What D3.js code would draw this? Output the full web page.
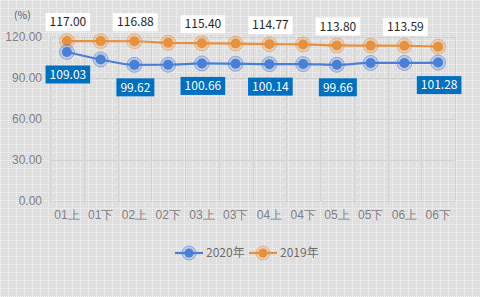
<!DOCTYPE html>
<html>
<head>
<meta charset="utf-8">
<script src="https://cdn.jsdelivr.net/npm/d3@7"></script>
<style>
  body { margin: 0; background: #e0e0e0; }
  svg { display: block; font-family: "Noto Sans CJK SC", "Noto Sans", sans-serif; }
</style>
</head>
<body>
<div id="chart"></div>
<script>
// categories and series
let categories = ["01上", "01下", "02上", "02下", "03上", "03下", "04上", "04下", "05上", "05下", "06上", "06下"];
let values2020 = [109.03, 103.6, 99.62, 99.7, 100.66, 100.4, 100.14, 100.2, 99.66, 101.0, 101.0, 101.28];
let values2019 = [117.00, 117.0, 116.88, 115.8, 115.40, 115.2, 114.77, 114.6, 113.80, 113.7, 113.59, 112.9];
let labels2020 = [0, 2, 4, 6, 8, 11];
let labels2019 = [0, 2, 4, 6, 8, 10];
let yTicks = [0, 30, 60, 90, 120];

let width = 480, height = 297;
let blue = "#4a7fd8", orange = "#e8913d";

let svg = d3.select("#chart").append("svg")
    .attr("width", width)
    .attr("height", height);

// dotted background pattern
let defs = svg.append("defs");
let pat = defs.append("pattern")
    .attr("id", "dots")
    .attr("width", 8).attr("height", 8)
    .attr("patternUnits", "userSpaceOnUse");
pat.append("rect").attr("width", 8).attr("height", 8).attr("fill", "#dfdfdf");
[0, 2, 4, 6].forEach(function (d) {
    pat.append("rect").attr("x", d).attr("y", 0).attr("width", 1).attr("height", 1).attr("fill", "#f6f6f6");
    if (d > 0) pat.append("rect").attr("x", 0).attr("y", d).attr("width", 1).attr("height", 1).attr("fill", "#f6f6f6");
});
svg.append("rect").attr("width", width).attr("height", height).attr("fill", "url(#dots)");

let x = d3.scaleBand().domain(categories).range([50, 455]);
let y = d3.scaleLinear().domain([0, 120]).range([201, 37]);
let cx = function (i) { return x(categories[i]) + x.bandwidth() / 2; };

// gridlines
let grid = svg.append("g").attr("stroke", "#d2d2d2").attr("stroke-width", 1);
yTicks.forEach(function (t) {
    grid.append("line").attr("x1", 50).attr("x2", 455)
        .attr("y1", Math.round(y(t)) + 0.5).attr("y2", Math.round(y(t)) + 0.5);
});
categories.forEach(function (c) {
    let xx = Math.round(x(c)) + 0.5;
    grid.append("line").attr("x1", xx).attr("x2", xx).attr("y1", y(120)).attr("y2", y(0));
});
grid.append("line").attr("x1", 455.5).attr("x2", 455.5).attr("y1", y(120)).attr("y2", y(0));

// y axis
let yAxis = svg.append("g")
    .attr("transform", "translate(42,0)")
    .call(d3.axisLeft(y).tickValues(yTicks).tickSize(0).tickPadding(0).tickFormat(d3.format(".2f")));
yAxis.select(".domain").remove();
yAxis.selectAll("text").attr("fill", "#7f7f86").style("font-size", "12px");

// x axis
let xAxis = svg.append("g")
    .attr("transform", "translate(0,210)")
    .call(d3.axisBottom(x).tickSize(0).tickPadding(0));
xAxis.select(".domain").remove();
xAxis.selectAll("text").attr("fill", "#7f7f86").style("font-size", "12px");

svg.append("text").attr("x", 14).attr("y", 19)
    .attr("fill", "#595959").style("font-size", "10.5px").text("(%)");

// series
function drawSeries(values, color) {
    let line = d3.line()
        .x(function (d, i) { return cx(i); })
        .y(function (d) { return y(d); })
        .curve(d3.curveMonotoneX);
    svg.append("path").datum(values)
        .attr("fill", "none").attr("stroke", color).attr("stroke-width", 2.2)
        .attr("d", line);
    let g = svg.append("g");
    g.selectAll(".ring").data(values).enter().append("circle")
        .attr("cx", function (d, i) { return cx(i); })
        .attr("cy", function (d) { return y(d); })
        .attr("r", 7.5).attr("fill", color).attr("fill-opacity", 0.25)
        .attr("stroke", color).attr("stroke-opacity", 0.5).attr("stroke-width", 1);
    g.selectAll(".dot").data(values).enter().append("circle")
        .attr("cx", function (d, i) { return cx(i); })
        .attr("cy", function (d) { return y(d); })
        .attr("r", 5).attr("fill", color);
}
drawSeries(values2019, orange);
drawSeries(values2020, blue);

// data labels
function drawLabels(values, idx, dy, bg, fg) {
    idx.forEach(function (i) {
        let txt = values[i].toFixed(2);
        let g = svg.append("g").attr("transform", "translate(" + (cx(i) + 1) + "," + (y(values[i]) + dy) + ")");
        let t = g.append("text").attr("text-anchor", "middle").attr("dy", "0.35em")
            .attr("fill", fg).style("font-size", "12px").text(txt);
        let w = t.node().getComputedTextLength() + 8;
        g.insert("rect", "text").attr("x", -w / 2).attr("y", -9).attr("width", w).attr("height", 18).attr("fill", bg);
    });
}
drawLabels(values2019, labels2019, -19, "#ffffff", "#262626");
drawLabels(values2020, labels2020, 22.5, "#0070c0", "#ffffff");

// legend
let legend = [{ name: "2020年", color: blue, x: 175 }, { name: "2019年", color: orange, x: 249 }];
legend.forEach(function (d) {
    let g = svg.append("g").attr("transform", "translate(" + d.x + ",253)");
    g.append("line").attr("x1", 0).attr("x2", 28).attr("stroke", d.color).attr("stroke-width", 2.2);
    g.append("circle").attr("cx", 14).attr("r", 7).attr("fill", d.color).attr("fill-opacity", 0.25)
        .attr("stroke", d.color).attr("stroke-opacity", 0.5);
    g.append("circle").attr("cx", 14).attr("r", 4.5).attr("fill", d.color);
    g.append("text").attr("x", 31).attr("dy", "0.35em").attr("fill", "#6f6f6f")
        .style("font-size", "12px").text(d.name);
});
</script>
</body>
</html>
